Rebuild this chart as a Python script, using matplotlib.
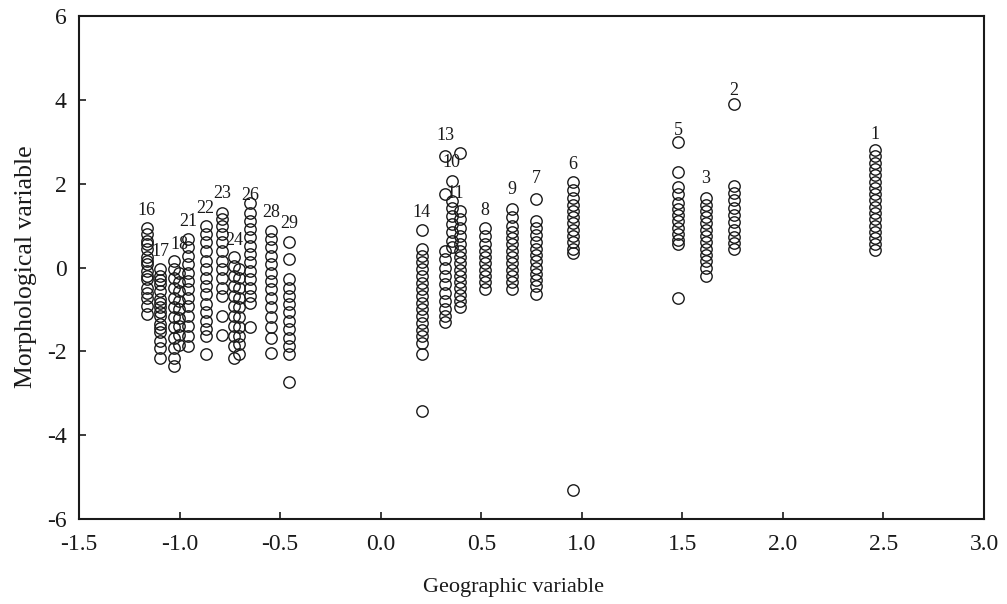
import matplotlib
matplotlib.use("Agg")
import matplotlib.pyplot as plt

plt.rcParams['font.family'] = ['Liberation Serif', 'DejaVu Serif']
plt.rcParams['axes.unicode_minus'] = False

# ---- data: group labels (None = unlabeled column), x positions, y values ----
group_labels = ["16", "17", "18", None, "21", "22", "23", "24", None, "26", "28", "29",
                "14", "13", "10", "11", "8", "9", "7", "6", "5", "3", "2", "1"]
group_x = [-1.163, -1.097, -1.027, -1.002, -0.958, -0.870, -0.789, -0.729, -0.704, -0.651,
           -0.545, -0.457, 0.205, 0.321, 0.354, 0.396, 0.520, 0.653, 0.774, 0.956,
           1.479, 1.618, 1.755, 2.460]

g16 = [0.95, 0.80, 0.64, 0.55, 0.44, 0.24, 0.15, 0.08, -0.08, -0.20, -0.28, -0.48, -0.60, -0.72, -0.91, -1.11]
g17 = [-0.04, -0.20, -0.30, -0.40, -0.56, -0.75, -0.85, -0.95, -1.05, -1.15, -1.35, -1.45, -1.55, -1.75, -1.91, -2.15]
g18 = [0.16, -0.04, -0.24, -0.48, -0.72, -0.95, -1.19, -1.43, -1.67, -1.91, -2.15, -2.35]
g19 = [-0.12, -0.35, -0.55, -0.80, -1.00, -1.20, -1.40, -1.60, -1.85]
g21 = [0.68, 0.48, 0.28, 0.08, -0.12, -0.32, -0.52, -0.72, -0.91, -1.15, -1.39, -1.63, -1.87]
g22 = [1.00, 0.80, 0.60, 0.40, 0.16, -0.04, -0.24, -0.44, -0.64, -0.87, -1.07, -1.27, -1.47, -1.63, -2.07]
g23 = [1.31, 1.15, 1.00, 0.80, 0.60, 0.40, 0.16, -0.04, -0.24, -0.48, -0.68, -1.15, -1.61]
g24 = [0.24, 0.04, -0.20, -0.44, -0.68, -0.91, -1.15, -1.39, -1.63, -1.87, -2.15]
g25 = [-0.04, -0.24, -0.48, -0.72, -0.95, -1.19, -1.43, -1.63, -1.83, -2.07]
g26 = [1.55, 1.31, 1.11, 0.92, 0.72, 0.52, 0.32, 0.12, -0.08, -0.28, -0.48, -0.68, -0.84, -1.43]
g28 = [0.88, 0.68, 0.48, 0.28, 0.08, -0.12, -0.32, -0.52, -0.72, -0.95, -1.19, -1.43, -1.67, -2.03]
g29 = [0.60, 0.20, -0.28, -0.48, -0.68, -0.87, -1.07, -1.27, -1.47, -1.67, -1.87, -2.07, -2.74]
g14 = [0.89, 0.44, 0.28, 0.12, -0.04, -0.20, -0.36, -0.52, -0.68, -0.84, -1.00, -1.16, -1.32,
       -1.48, -1.64, -1.79, -2.07, -3.42]
g13 = [2.65, 1.75, 0.40, 0.20, 0.00, -0.20, -0.40, -0.60, -0.80, -1.00, -1.15, -1.31]
g10 = [2.07, 1.59, 1.43, 1.23, 1.04, 0.84, 0.64, 0.48]
g11 = [2.72, 1.35, 1.15, 0.95, 0.75, 0.55, 0.40, 0.25, 0.10, -0.05, -0.20, -0.35, -0.50, -0.65, -0.80, -0.95]
g8 = [0.95, 0.75, 0.55, 0.40, 0.25, 0.10, -0.05, -0.20, -0.35, -0.52]
g9 = [1.39, 1.20, 1.00, 0.85, 0.70, 0.55, 0.40, 0.25, 0.10, -0.05, -0.20, -0.35, -0.52]
g7 = [1.63, 1.11, 0.95, 0.78, 0.60, 0.45, 0.30, 0.15, 0.00, -0.15, -0.30, -0.45, -0.64]
g6 = [2.03, 1.85, 1.65, 1.50, 1.35, 1.20, 1.05, 0.90, 0.75, 0.60, 0.45, 0.35, -5.30]
g5 = [3.00, 2.27, 1.91, 1.75, 1.55, 1.40, 1.25, 1.10, 0.95, 0.80, 0.65, 0.56, -0.72]
g3 = [1.67, 1.50, 1.35, 1.20, 1.05, 0.90, 0.75, 0.60, 0.45, 0.30, 0.15, 0.00, -0.20]
g2 = [3.90, 1.95, 1.78, 1.60, 1.42, 1.25, 1.08, 0.90, 0.72, 0.58, 0.44]
g1 = [2.80, 2.65, 2.50, 2.35, 2.20, 2.05, 1.90, 1.75, 1.60, 1.45, 1.30, 1.15, 1.00, 0.85, 0.70, 0.55, 0.42]

group_y = [g16, g17, g18, g19, g21, g22, g23, g24, g25, g26, g28, g29,
           g14, g13, g10, g11, g8, g9, g7, g6, g5, g3, g2, g1]

x_ticks = [-1.5, -1.0, -0.5, 0.0, 0.5, 1.0, 1.5, 2.0, 2.5, 3.0]
y_ticks = [-6, -4, -2, 0, 2, 4, 6]

# ---- layout: label centre offsets (points) from each group's top point ----
default_offset = (0, 12.5)
label_offsets = {"18": (3.5, 12), "13": (0, 15), "10": (0, 13), "11": (-3.6, -29),
                 "26": (0, 5), "5": (0, 8), "2": (0, 10), "7": (0, 15), "3": (0, 14),
                 "9": (0, 14), "1": (0, 11), "14": (0, 13), "23": (0, 13.5),
                 "29": (0, 13.5), "28": (0, 13), "6": (0, 13)}

fig = plt.figure(figsize=(10.07, 6.04), dpi=100)
ax = fig.add_axes([0.0785, 0.1407, 0.8987, 0.8328])

for lab, gx, ys in zip(group_labels, group_x, group_y):
    ax.plot([gx] * len(ys), ys, linestyle='none', marker='o', markersize=8.2,
            markerfacecolor='none', markeredgecolor='#1a1a1a', markeredgewidth=1.0)
    if lab is not None:
        dx, dy = label_offsets.get(lab, default_offset)
        ax.annotate(lab, (gx, max(ys)), xytext=(dx, dy), textcoords='offset points',
                    ha='center', va='center', fontsize=13, color='#1a1a1a')

ax.set_xlim(-1.5, 3.0)
ax.set_ylim(-6, 6)
ax.set_xticks(x_ticks)
ax.set_xticklabels([f"{t:.1f}" for t in x_ticks])
ax.set_yticks(y_ticks)
ax.set_yticklabels([str(t) for t in y_ticks])
ax.tick_params(direction='in', length=5, width=1.2, labelsize=17, colors='#1a1a1a')
ax.tick_params(axis='x', pad=11)
ax.tick_params(axis='y', pad=9)
ax.tick_params(top=False, right=False)
for s in ax.spines.values():
    s.set_linewidth(1.5)
    s.set_color('#1a1a1a')

ax.set_xlabel("Geographic variable", fontsize=16, color='#1a1a1a')
ax.set_ylabel("Morphological variable", fontsize=18.5, color='#1a1a1a')
ax.xaxis.set_label_coords(0.48, -0.118)
ax.yaxis.set_label_coords(-0.047, 0.501)

fig.savefig("out.png", dpi=100)
